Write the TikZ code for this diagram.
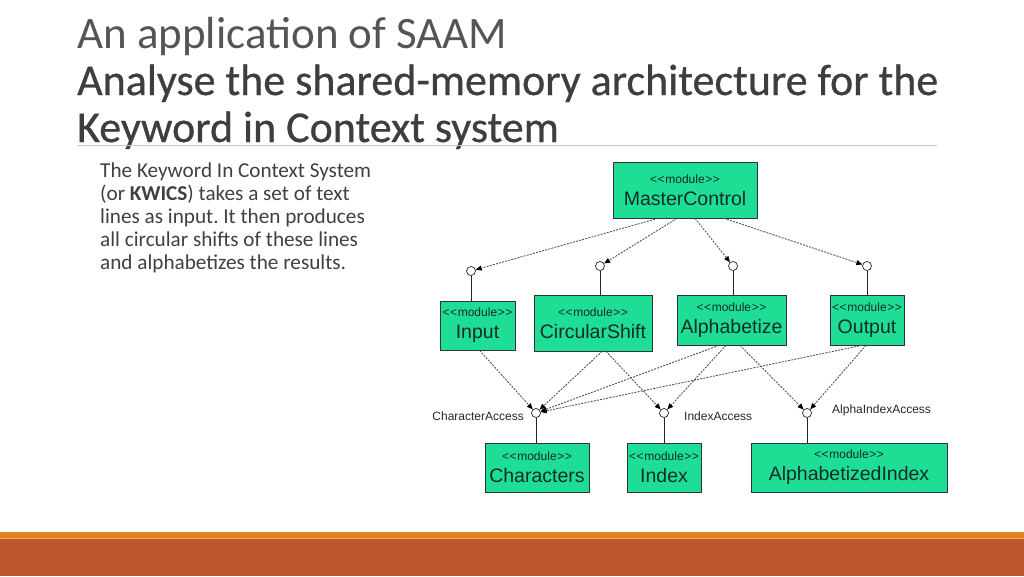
\documentclass[tikz,border=0pt]{standalone}
\usepackage{fontspec}
\setmainfont{Carlito}
\newfontfamily\diagfont{Liberation Sans}
\newfontfamily\headfont[FakeBold=0.6]{Carlito}
\usetikzlibrary{arrows.meta,calc}
\frenchspacing
\definecolor{boxgreen}{RGB}{30,222,150}
\definecolor{boxtext}{RGB}{20,45,35}
\definecolor{titlegray}{RGB}{85,85,85}
\definecolor{headgray}{RGB}{62,62,62}
\definecolor{bodygray}{RGB}{64,64,64}
\definecolor{bandorange}{RGB}{226,131,30}
\definecolor{bandlight}{RGB}{242,170,100}
\definecolor{bandrust}{RGB}{189,88,44}
\definecolor{rulegray}{RGB}{200,200,200}
\newcommand{\modtag}{{\fontsize{12}{13}\selectfont <\kern0.6pt<\kern0.6pt module\kern0.6pt>\kern0.6pt>}}
\tikzset{
  modbox/.style={draw=black!80, line width=0.7pt, fill=boxgreen, text=boxtext,
    inner sep=0pt, align=center, font=\diagfont\fontsize{19.5}{22}\selectfont},
  iface/.style={circle, draw=black!85, fill=white, line width=0.7pt, minimum size=9pt, inner sep=0pt},
  dep/.style={draw=black!70, line width=0.85pt, dash pattern=on 2pt off 1.2pt,
    -{Triangle[length=6pt,width=5pt,color=black]}},
  provides/.style={draw=black!85, line width=0.8pt},
  ifacelabel/.style={font=\diagfont\fontsize{12}{13}\selectfont, text=black!85, inner sep=0pt},
  headline/.style={anchor=base west, inner sep=0pt},
  bodyline/.style={anchor=base west, inner sep=0pt, text=bodygray, font=\fontsize{21.2}{23}\selectfont}
}
\begin{document}
\begin{tikzpicture}[x=1pt,y=-1pt]
\useasboundingbox (0,0) rectangle (1024,576);
% titles
\node[headline, text=titlegray, font=\fontsize{45}{45}\selectfont] (t1) at (77,48) {An application of SAAM};
\node[headline, text=headgray, font=\headfont\fontsize{44}{44}\selectfont] (t2) at (77,95) {Analyse the shared-memory architecture for the};
\node[headline, text=headgray, font=\headfont\fontsize{44}{44}\selectfont] (t3) at (77,142) {Keyword in Context system};
\draw[rulegray, line width=0.8pt] (77,145.5) -- (937,145.5);
% body
\node[bodyline] (b1) at (100,177) {The Keyword In Context System};
\node[bodyline] (b2) at (100,200) {(or \textbf{KWICS}) takes a set of text};
\node[bodyline] (b3) at (100,223) {lines as input. It then produces};
\node[bodyline] (b4) at (100,246) {all circular shifts of these lines};
\node[bodyline] (b5) at (100,269) {and alphabetizes the results.};
% boxes
\node[modbox, minimum width=144pt, minimum height=56pt] (mc) at (685,190) {\modtag\\MasterControl};
\node[modbox, minimum width=75pt, minimum height=49pt] (in) at (477.5,325.5) {\modtag\\Input};
\node[modbox, minimum width=118pt, minimum height=56pt] (cs) at (593,323) {\modtag\\CircularShift};
\node[modbox, minimum width=109pt, minimum height=50pt] (al) at (731.5,320) {\modtag\\Alphabetize};
\node[modbox, minimum width=74pt, minimum height=50pt] (out) at (867,320) {\modtag\\Output};
\node[modbox, minimum width=104pt, minimum height=49pt] (ch) at (537,467.5) {\modtag\\Characters};
\node[modbox, minimum width=74pt, minimum height=49pt] (ix) at (664,467.5) {\modtag\\Index};
\node[modbox, minimum width=196pt, minimum height=49pt] (ai) at (849,467.5) {\modtag\\AlphabetizedIndex};
% interfaces
\node[iface] (c1) at (471,271) {};
\node[iface] (c2) at (600,266) {};
\node[iface] (c3) at (733,266) {};
\node[iface] (c4) at (867,266) {};
\node[iface] (ca) at (536,413) {};
\node[iface] (ci) at (664,413) {};
\node[iface] (cx) at (807,413) {};
\draw[provides] (c1) -- (c1 |- in.north);
\draw[provides] (c2) -- (c2 |- cs.north);
\draw[provides] (c3) -- (c3 |- al.north);
\draw[provides] (c4) -- (c4 |- out.north);
\draw[provides] (ca) -- (ca |- ch.north);
\draw[provides] (ci) -- (ci |- ix.north);
\draw[provides] (cx) -- (cx |- ai.north);
% labels
\node[ifacelabel, anchor=east] (la) at (524,416) {CharacterAccess};
\node[ifacelabel, anchor=west] (li) at (684,416) {IndexAccess};
\node[ifacelabel, anchor=west] (lx) at (832,410) {AlphaIndexAccess};
% dependencies from MasterControl
\draw[dep] ([xshift=-27pt]mc.south) -- (c1);
\draw[dep] ([xshift=-8pt]mc.south) -- (c2);
\draw[dep] ([xshift=10pt]mc.south) -- (c3);
\draw[dep] ([xshift=39pt]mc.south) -- (c4);
% lower dependencies
\draw[dep] ([xshift=2pt]in.south) -- (ca);
\draw[dep] ([xshift=9pt]cs.south) -- (ca);
\draw[dep] ([xshift=13pt]cs.south) -- (ci);
\draw[dep] ([xshift=-12.5pt]al.south) -- (ca);
\draw[dep] ([xshift=-5.5pt]al.south) -- (ci);
\draw[dep] ([xshift=8.5pt]al.south) -- (cx);
\draw[dep] ([xshift=-5pt]out.south) -- (ca);
\draw[dep] ([xshift=-1pt]out.south) -- (cx);
% bottom band
\fill[bandorange] (0,532) rectangle (1024,537.5);
\fill[bandlight] (0,537.5) rectangle (1024,538.5);
\fill[bandrust] (0,538.5) rectangle (1024,576);
\end{tikzpicture}
\end{document}
